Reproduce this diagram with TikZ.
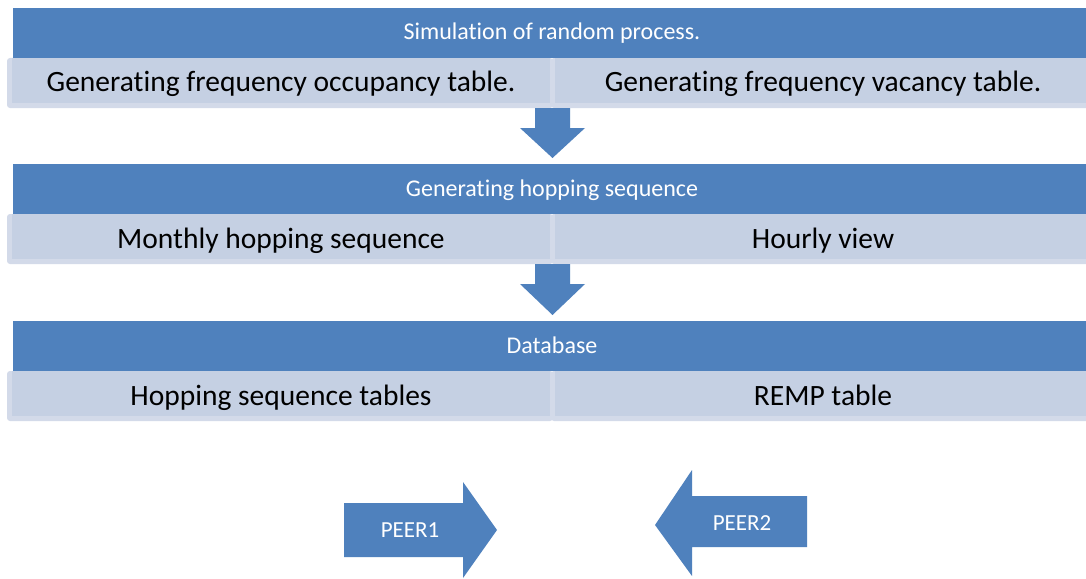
\documentclass[tikz,border=0pt]{standalone}
\usepackage{fontspec}
\setmainfont{Carlito}[Ligatures=NoCommon]
\definecolor{barblue}{HTML}{4F81BD}
\definecolor{subfill}{HTML}{C5D0E3}
\definecolor{subedge}{HTML}{D3DAE9}
\tikzset{
  bartext/.style={text=white, font=\fontsize{24}{28}\selectfont, inner sep=0pt, anchor=base},
  subtext/.style={text=black, font=\fontsize{29.5}{34}\selectfont, inner sep=0pt, anchor=base},
  peertext/.style={text=white, font=\fontsize{23}{27}\selectfont, inner sep=0pt, anchor=base},
  barfill/.style={fill=barblue, draw=none},
  arrowfill/.style={fill=barblue, draw=none},
}
% one band: blue title bar with two light sub-boxes underneath
% #1 top y, #2 band name prefix, #3 title, #4 left text, #5 right text
\newcommand{\flowband}[5]{%
  \pgfmathsetmacro{\bt}{#1}
  \pgfmathsetmacro{\bb}{#1+50}
  \pgfmathsetmacro{\sb}{#1+100}
  \pgfmathsetmacro{\si}{#1+95}
  % sub-box borders
  \fill[subedge, rounded corners=3pt] (7,\bb) rectangle (553,\sb);
  \fill[subedge, rounded corners=3pt] (551,\bb) rectangle (1090,\sb);
  % sub-box fills
  \fill[subfill] (12,\bb) rectangle (550,\si);
  \fill[subfill] (555,\bb) rectangle (1090,\si);
  % title bar
  \fill[barfill] (13,\bt) rectangle (1090,\bb);
  \node[bartext] (#2-title) at (552,{#1+32}) {#3};
  \node[subtext] (#2-left) at (281,{#1+84}) {#4};
  \node[subtext] (#2-right) at (823,{#1+84}) {#5};
}
\begin{document}
\begin{tikzpicture}[x=1pt, y=-1pt]
\useasboundingbox (0,0) rectangle (1086,578);
\fill[white] (0,0) rectangle (1086,578);

\flowband{8}{sim}{Simulation of random process.}{Generating frequency occupancy table.}{Generating frequency vacancy table.}
\flowband{164}{hop}{Generating hopping sequence}{Monthly hopping sequence}{Hourly view}
\flowband{321}{db}{Database}{Hopping sequence tables}{REMP table}

% down arrows between bands
\fill[arrowfill] (535,108) -- (570,108) -- (570,128) -- (585,128) -- (552.5,158)
  -- (520,128) -- (535,128) -- cycle;
\fill[arrowfill] (535,264) -- (570,264) -- (570,284) -- (585,284) -- (552.5,315)
  -- (520,284) -- (535,284) -- cycle;

% peer arrows
\fill[arrowfill] (344,503) -- (463,503) -- (463,482) -- (497,530) -- (463,578)
  -- (463,557) -- (344,557) -- cycle;
\node[peertext] (peer1) at (410,537) {PEER1};
\fill[arrowfill] (807,496) -- (692,496) -- (692,470) -- (655,525) -- (692,576)
  -- (692,547) -- (807,547) -- cycle;
\node[peertext] (peer2) at (742,530) {PEER2};
\end{tikzpicture}
\end{document}
